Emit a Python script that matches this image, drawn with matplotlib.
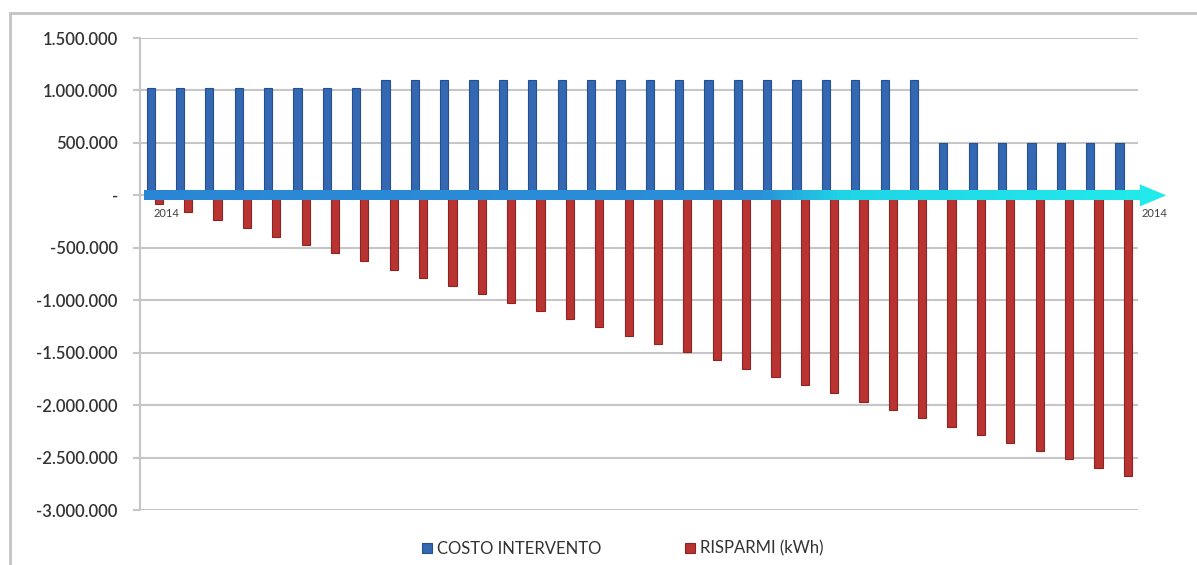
import numpy as np
import matplotlib.pyplot as plt
import matplotlib.colors as mcolors
from matplotlib.patches import Rectangle, Polygon
from matplotlib.ticker import FuncFormatter

plt.rcParams['font.family'] = ['Lato', 'DejaVu Sans']

# dati
costo_intervento = [1020000] * 8 + [1100000] * 19 + [500000] * 7
risparmi = [-78000, -157000, -236000, -315000, -393000, -472000, -551000, -630000,
            -708000, -787000, -866000, -944000, -1023000, -1102000, -1181000, -1259000,
            -1338000, -1417000, -1495000, -1574000, -1653000, -1732000, -1810000, -1889000,
            -1968000, -2046000, -2125000, -2204000, -2282000, -2361000, -2440000, -2518000,
            -2597000, -2676000]
etichette_asse = ['2014', '2014']
legenda = ['COSTO INTERVENTO', 'RISPARMI (kWh)']

n = len(costo_intervento)
x = np.arange(n)
w = 0.28

fig = plt.figure(figsize=(11.97, 5.65), dpi=100)
ax = fig.add_axes([0.117, 0.0973, 0.834, 0.8354])

# cornice esterna grigia
fig.add_artist(Rectangle((10 / 1197, -0.1), 1.2, 1 - 13 / 565 + 0.1, transform=fig.transFigure,
                         fill=False, edgecolor='#c4c4c4', linewidth=2))

b1 = ax.bar(x - w / 2, costo_intervento, w, color='#3468b2', edgecolor='#24508e', linewidth=0.8,
            zorder=3, label=legenda[0])
b2 = ax.bar(x + w / 2, risparmi, w, color='#b93331', edgecolor='#8c2424', linewidth=0.8,
            zorder=3, label=legenda[1])

ax.set_xlim(-0.5, n - 0.5)
ax.set_ylim(-3000000, 1500000)
ax.set_yticks(np.arange(-3000000, 1500001, 500000))
ax.yaxis.set_major_formatter(FuncFormatter(
    lambda v, p: '-' if v == 0 else f'{int(v):,}'.replace(',', '.')))
ax.set_xticks([])
ax.grid(axis='y', color='#c6c6c6', linewidth=1.5, zorder=0)
ax.tick_params(axis='y', length=5, width=1.5, color='#c6c6c6', labelsize=12,
               labelcolor='#333333', pad=11)
for t in ax.get_yticklabels():
    t.set_fontweight('semibold')
for s in ['top', 'right', 'bottom']:
    ax.spines[s].set_visible(False)
ax.spines['left'].set_color('#c6c6c6')
ax.spines['left'].set_linewidth(1.5)

# freccia sfumata blu -> ciano lungo lo zero
cmap = mcolors.LinearSegmentedColormap.from_list(
    'freccia', [(0, '#2a86d4'), (0.6, '#2a8ed8'), (0.68, '#1fd4e6'), (1, '#22eaea')])
x0, x1, xtip = -0.38, n - 0.45, n + 0.45
h, hh = 47000, 105000
segs = np.linspace(x0, x1, 300)
for i in range(len(segs) - 1):
    ax.add_patch(Rectangle((segs[i], -h), segs[i + 1] - segs[i] + 0.01, 2 * h,
                           color=cmap((segs[i] - x0) / (xtip - x0)), linewidth=0,
                           zorder=4, clip_on=False))
ax.add_patch(Polygon([(x1, -hh), (x1, hh), (xtip, 0)], closed=True, color='#22eaea',
                     linewidth=0, zorder=4, clip_on=False))

ax.text(-0.05, -120000, etichette_asse[0], fontsize=8, color='#404040', ha='left', va='top')
ax.text(n - 0.4, -120000, etichette_asse[1], fontsize=8, color='#404040', ha='left', va='top')

leg = fig.legend(handles=[b1, b2], labels=legenda, loc='lower center', ncol=2,
                 bbox_to_anchor=(0.52, -0.012), frameon=False, fontsize=12,
                 handlelength=0.6, handleheight=0.6, columnspacing=5, handletextpad=0.3)
for t in leg.get_texts():
    t.set_color('#333333')

fig.savefig('out.png', dpi=100)
